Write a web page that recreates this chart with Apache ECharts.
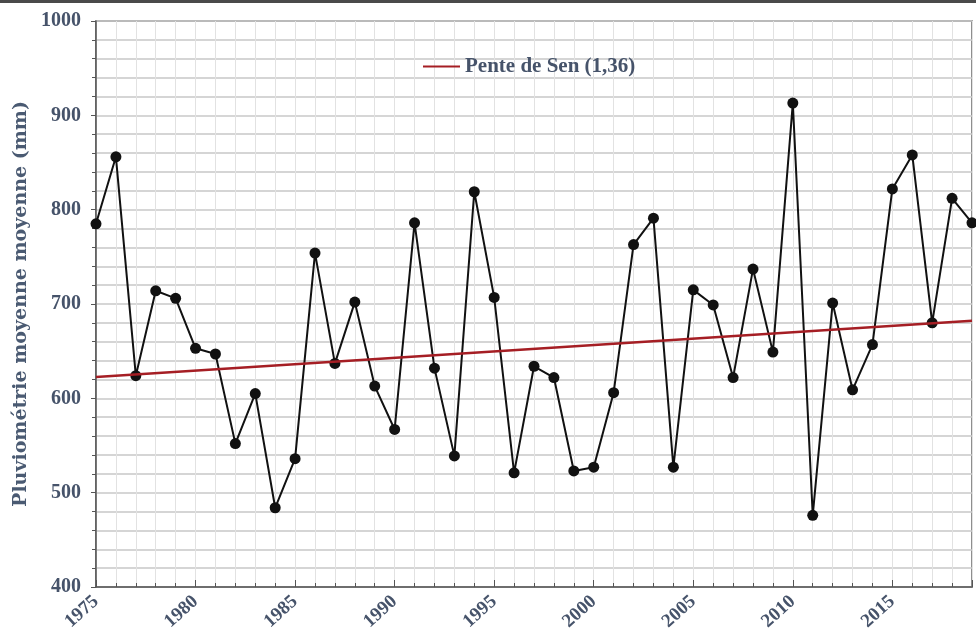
<!DOCTYPE html>
<html>
<head>
<meta charset="utf-8">
<script src="https://cdn.jsdelivr.net/npm/echarts@6/dist/echarts.min.js"></script>
<style>
html,body{margin:0;padding:0;background:#fff;}
#chart{width:976px;height:640px;}
</style>
</head>
<body>
<div id="chart"></div>
<script>
var years = [1975,1976,1977,1978,1979,1980,1981,1982,1983,1984,1985,1986,1987,1988,1989,
             1990,1991,1992,1993,1994,1995,1996,1997,1998,1999,2000,2001,2002,2003,2004,
             2005,2006,2007,2008,2009,2010,2011,2012,2013,2014,2015,2016,2017,2018,2019];
var rainfall = [785,856,624,714,706,653,647,552,605,484,536,754,637,702,613,
                567,786,632,539,819,707,521,634,622,523,527,606,763,791,527,
                715,699,622,737,649,913,476,701,609,657,822,858,680,812,786];
var senYears = [1975, 2019];
var senValues = [622.5, 682.3];
var yTicks = [400, 500, 600, 700, 800, 900, 1000];
var senName = 'Pente de Sen (1,36)';

var txtColor = '#46536a';
var font = 'Liberation Serif';

var chart = echarts.init(document.getElementById('chart'), null, {renderer:'canvas'});
chart.setOption({
  animation:false,
  backgroundColor:'#fff',
  graphic:[{type:'rect', shape:{x:0,y:0,width:976,height:3}, style:{fill:'#4a4a4a'}}],
  legend:{
    data:[{name:senName, icon:'rect'}],
    left:418, top:51,
    itemWidth:37, itemHeight:2, itemGap:5,
    textStyle:{fontFamily:font, fontWeight:'bold', fontSize:21, color:txtColor}
  },
  grid:{left:96, right:4, top:21, bottom:53, show:true, borderColor:'#6a6a6a', borderWidth:1.5, backgroundColor:'transparent'},
  xAxis:{
    type:'value', min:1975, max:2019, interval:5,
    axisLine:{show:true, onZero:false, lineStyle:{color:'#555', width:1.5}},
    axisTick:{show:true, inside:true, length:7, lineStyle:{color:'#555'}},
    minorTick:{show:true, splitNumber:5, length:4, lineStyle:{color:'#555'}},
    splitLine:{show:true, lineStyle:{color:'#e2e2e2', width:1}},
    minorSplitLine:{show:true, lineStyle:{color:'#e2e2e2', width:1}},
    axisLabel:{
      rotate:42, margin:12, fontFamily:font, fontWeight:'bold', fontSize:19, color:txtColor,
      formatter:function(v){ return (v % 5 === 0 && v <= 2015) ? String(v) : ''; }
    }
  },
  yAxis:{
    type:'value', min:400, max:1000, interval:100,
    name:'Pluviométrie moyenne moyenne (mm)', nameLocation:'middle', nameGap:63,
    nameTextStyle:{fontFamily:'DejaVu Serif', fontWeight:'bold', fontSize:19, color:'#4a5a72'},
    axisLine:{show:true, lineStyle:{color:'#555', width:1.5}},
    axisTick:{show:true, inside:false, length:5, lineStyle:{color:'#555'}},
    minorTick:{show:true, splitNumber:5, length:4, lineStyle:{color:'#555'}},
    splitLine:{show:true, lineStyle:{color:'#c8c8c8', width:1.5}},
    minorSplitLine:{show:true, lineStyle:{color:'#c8c8c8', width:1.5}},
    axisLabel:{
      margin:15, fontFamily:font, fontWeight:'bold', fontSize:20, color:txtColor,
      formatter:function(v){ return yTicks.indexOf(v) >= 0 ? String(v) : ''; }
    }
  },
  series:[
    {
      name:'Pluviométrie',
      type:'line',
      data: years.map(function(y,i){ return [y, rainfall[i]]; }),
      symbol:'circle', symbolSize:11,
      itemStyle:{color:'#111'},
      lineStyle:{color:'#111', width:2},
      z:3
    },
    {
      name:senName,
      type:'line',
      data: senYears.map(function(y,i){ return [y, senValues[i]]; }),
      symbol:'none',
      lineStyle:{color:'#a51e24', width:2.5},
      itemStyle:{color:'#a51e24'},
      z:4
    }
  ]
});
</script>
</body>
</html>
